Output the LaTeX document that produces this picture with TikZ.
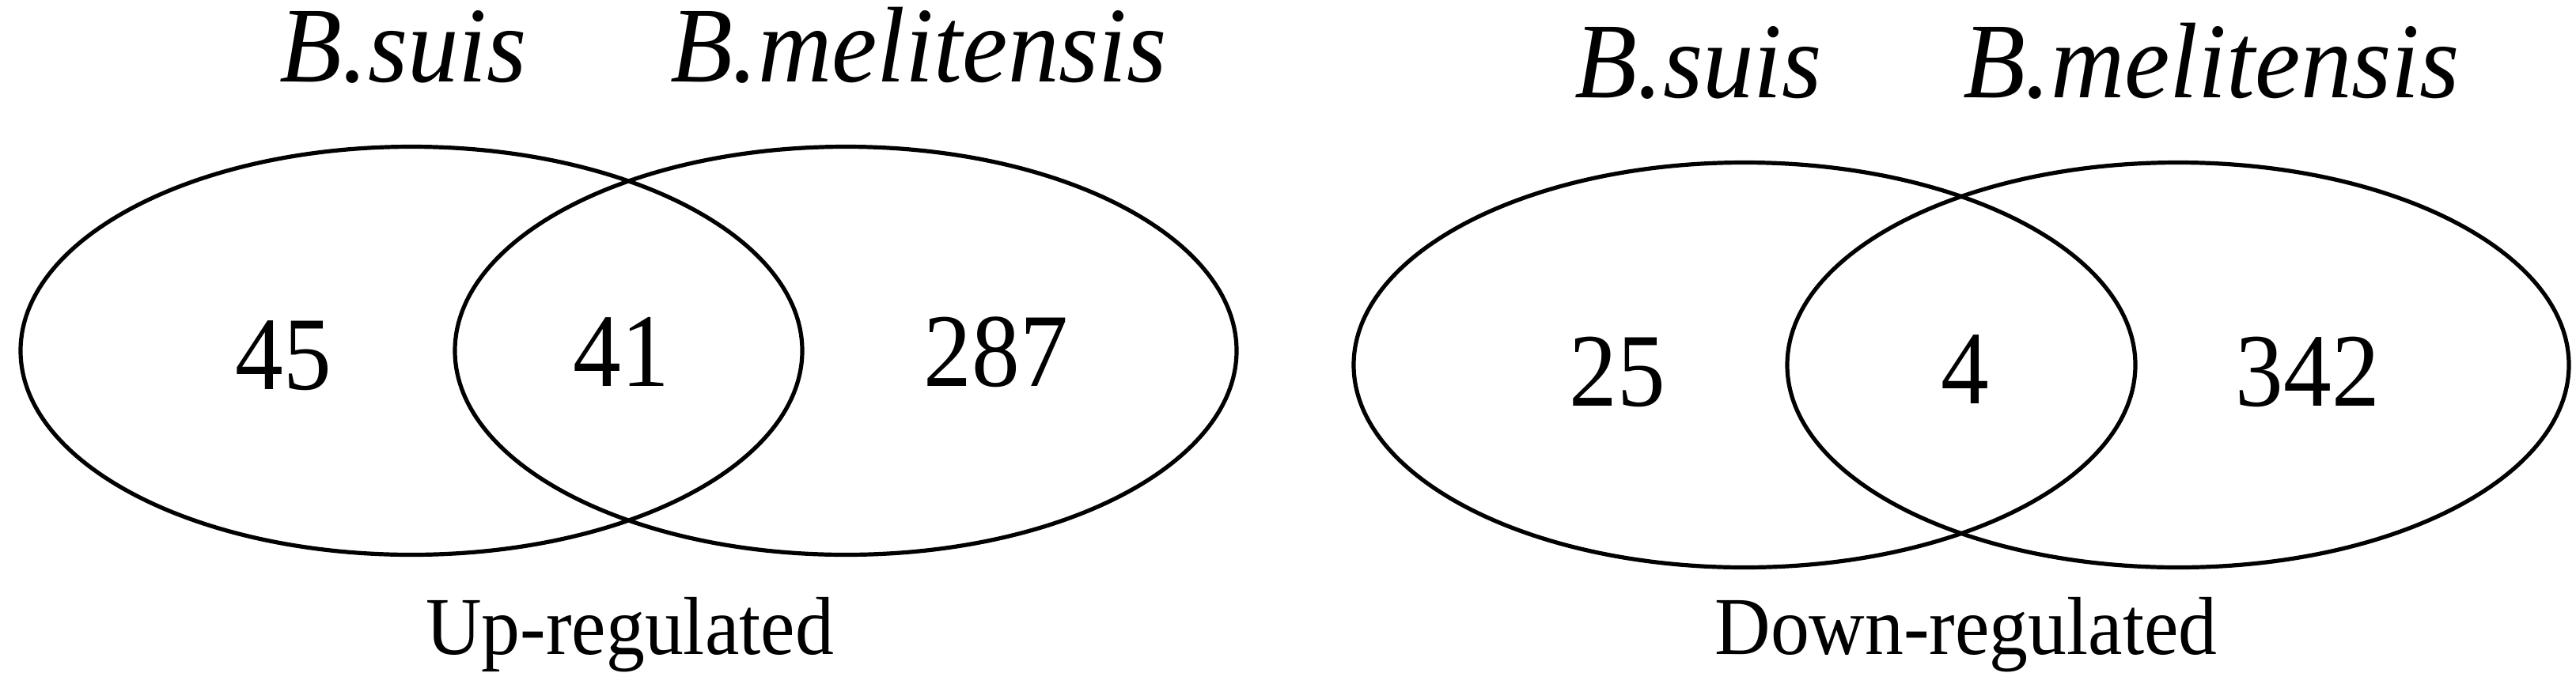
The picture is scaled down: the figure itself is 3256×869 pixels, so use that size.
\documentclass[tikz,border=0pt]{standalone}
\usepackage{fontspec}
\setmainfont{Liberation Serif}
\newfontfamily\specfont[FakeStretch=0.95]{Liberation Serif}
\newfontfamily\numfont[FakeStretch=0.92]{Liberation Serif}
\newfontfamily\capfont[FakeStretch=0.94]{Liberation Serif}
\usetikzlibrary{shapes.geometric}
\tikzset{
  venn/.style={draw, ellipse, line width=1.3pt, inner sep=0pt, minimum width=247pt, minimum height=129pt},
  species/.style={anchor=base, inner sep=0pt, font=\specfont\itshape\fontsize{34pt}{40pt}\selectfont},
  count/.style={anchor=base, inner sep=0pt, font=\numfont\fontsize{33pt}{40pt}\selectfont},
  caption/.style={anchor=base, inner sep=0pt, font=\capfont\fontsize{26pt}{32pt}\selectfont}
}
\begin{document}
\begin{tikzpicture}[x=0.25pt,y=-0.25pt]
\useasboundingbox (0,0) rectangle (3256,869);
% left diagram
\node[venn] (L1) at (520,443.5) {};
\node[venn] (L2) at (1069,443.5) {};
\node[species] (ls) at (510,103) {B.suis};
\node[species] (lm) at (1161,103) {B.melitensis};
\node[count] (n45) at (358,492) {45};
\node[count] (n41) at (785,488) {41};
\node[count] (n287) at (1259,488) {287};
\node[caption] (up) at (796,827) {Up-regulated};
% right diagram
\node[venn, minimum height=128pt] (R1) at (2205,461.5) {};
\node[venn, minimum height=128pt] (R2) at (2753,461.5) {};
\node[species] (rs) at (2147,123) {B.suis};
\node[species] (rm) at (2795,123) {B.melitensis};
\node[count] (n25) at (2044,513) {25};
\node[count] (n4) at (2484,510) {4};
\node[count] (n342) at (2917,513) {342};
\node[caption] (down) at (2485,827) {Down-regulated};
\end{tikzpicture}
\end{document}
